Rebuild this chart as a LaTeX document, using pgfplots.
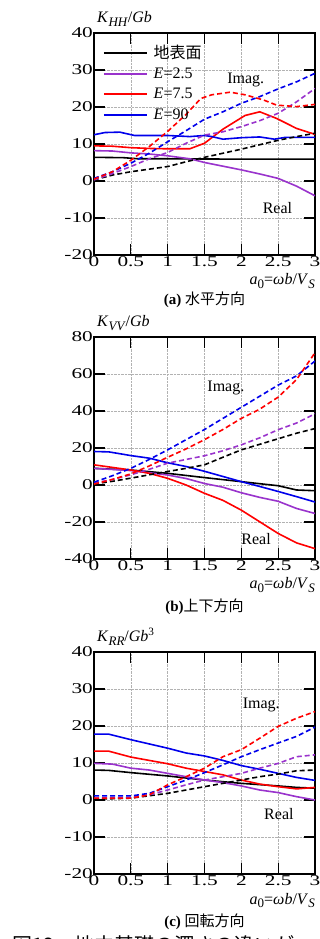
\documentclass[border=0pt]{standalone}
\usepackage{pgfplots}
\pgfplotsset{compat=1.18}
\usepackage{fontspec}
\setmainfont{Liberation Serif}
\newfontfamily\jp{Noto Sans CJK JP}
\newfontfamily\tickfont[FakeStretch=1.42]{Liberation Serif}
\definecolor{mpurple}{RGB}{153,51,204}
\definecolor{mblue}{RGB}{0,0,235}
\definecolor{mred}{RGB}{255,0,0}
\pgfplotsset{
 mystyle/.style={
  scale only axis, width=221pt, height=222pt,
  xmin=0, xmax=3, xtick={0,0.5,1,1.5,2,2.5,3}, xticklabels={0,0.5,1,1.5,2,2.5,3},
  grid=major, grid style={densely dotted, black!30, line width=0.6pt},
  axis line style={line width=1.3pt},
  major tick length=11pt, tick style={line width=1.3pt, black},
  /pgf/number format/assume math mode=true,
  every tick label/.append style={font=\tickfont\fontsize{15}{15}\selectfont},
  xticklabel style={inner sep=1pt},
  yticklabel style={inner sep=1pt},
  clip mode=individual,
 },
 sol/.style={line width=1.6pt},
 das/.style={line width=1.6pt, dash pattern=on 5pt off 3pt},
}
\newcommand{\lsub}[1]{\raisebox{-0.45ex}{\fontsize{13}{13}\selectfont #1}}
\newcommand{\xlab}{\textit{a}\lsub{0}=\textit{ωb}/\textit{V}\lsub{\textit{S}}}
\begin{document}
\begin{tikzpicture}
\useasboundingbox (0,0) rectangle (320pt,939pt);
% ---------------- (a)
\begin{axis}[mystyle, at={(94pt,684pt)}, anchor=south west,
  ymin=-20, ymax=40, ytick={-20,-10,0,10,20,30,40},
  legend style={draw=none, fill=none, at={(0.035,0.96)}, anchor=north west,
    font=\fontsize{16}{16}\selectfont, row sep=4.2pt, inner sep=1pt, cells={anchor=west}},
  legend image code/.code={\draw[line width=2pt] (0pt,0pt) -- (43pt,0pt); \path (47pt,0pt);},
]
\addplot[sol, black] coordinates {(0,6.4)(0.4,6.3)(0.6,6.0)(1,6.0)(2,5.9)(3,5.9)};
\addlegendentry{{\jp 地表面}}
\addplot[sol, mpurple] coordinates {(0,8.2)(0.25,8.1)(0.5,7.6)(0.75,7.3)(1,6.8)(1.3,6.0)(1.5,5.0)(1.75,4.0)(2,3.0)(2.25,1.9)(2.5,0.7)(2.75,-1.4)(3,-4.0)};
\addlegendentry{\textit{E}=2.5}
\addplot[sol, mred] coordinates {(0,9.5)(0.25,9.4)(0.5,9.0)(0.75,8.8)(1,8.7)(1.3,8.7)(1.5,10.2)(1.75,14.0)(2.05,17.7)(2.25,18.7)(2.48,16.9)(2.75,14.2)(3,12.6)};
\addlegendentry{\textit{E}=7.5}
\addplot[sol, mblue] coordinates {(0,12.5)(0.15,13.1)(0.35,13.2)(0.55,12.3)(1,12.3)(1.3,12.0)(1.5,12.3)(1.6,12.0)(1.75,11.3)(2,11.7)(2.25,11.9)(2.45,11.3)(2.6,11.8)(3,11.8)};
\addlegendentry{\textit{E}=90}
\addplot[das, black, forget plot] coordinates {(0,0.3)(0.25,1.6)(0.5,2.5)(0.75,3.2)(1,3.9)(1.25,5.2)(1.5,6.4)(1.75,7.5)(2,8.6)(2.25,9.8)(2.5,11.0)(2.75,12.0)(3,12.9)};
\addplot[das, mpurple, forget plot] coordinates {(0,0.3)(0.25,2.0)(0.5,3.9)(0.75,6.0)(1,7.7)(1.25,10.2)(1.5,12.4)(1.75,13.3)(2,14.7)(2.25,16.3)(2.5,18.3)(2.75,21.4)(3,25.0)};
\addplot[das, mblue, forget plot] coordinates {(0,0.7)(0.25,2.5)(0.5,4.8)(0.75,7.5)(1,10.6)(1.25,13.6)(1.5,16.7)(1.75,18.7)(2,21.0)(2.25,22.8)(2.5,24.9)(2.75,26.8)(3,29.1)};
\addplot[das, mred, forget plot] coordinates {(0,0.5)(0.25,2.5)(0.5,5.6)(0.75,9.3)(1,13.4)(1.25,18.0)(1.45,22.3)(1.6,23.3)(1.85,24.0)(2.05,23.3)(2.3,21.9)(2.48,20.5)(2.75,20.1)(3,20.7)};
\node[font=\fontsize{16}{16}\selectfont] at (axis cs:2.06,27.3) {Imag.};
\node[font=\fontsize{16}{16}\selectfont] at (axis cs:2.49,-7.2) {Real};
\node[anchor=base west, inner sep=0, font=\fontsize{16}{16}\selectfont] at (rel axis cs:0,1) [xshift=3pt, yshift=10pt] {\textit{K}\lsub{\textit{HH}}/\textit{Gb}};
\node[anchor=base east, inner sep=0, font=\fontsize{16}{16}\selectfont] at (rel axis cs:1,0) [yshift=-30pt] {\xlab};
\node[anchor=base, inner sep=0, font=\fontsize{15}{15}\selectfont] at (rel axis cs:0.5,0) [yshift=-50pt] {\textbf{(a)} {\jp 水平方向}};
\end{axis}
% ---------------- (b)
\begin{axis}[mystyle, at={(94pt,380pt)}, anchor=south west,
  ymin=-40, ymax=80, ytick={-40,-20,0,20,40,60,80}]
\addplot[sol, black] coordinates {(0,9.0)(0.5,8.1)(1,6.3)(1.5,4.0)(2,1.8)(2.5,-0.4)(2.75,-2.7)(3,-3.1)};
\addplot[sol, mpurple] coordinates {(0,9.0)(0.5,7.8)(1,5.4)(1.25,3.5)(1.5,0.8)(1.75,-1.2)(2,-4.2)(2.25,-6.7)(2.5,-8.8)(2.75,-12.7)(3,-15.4)};
\addplot[sol, mred] coordinates {(0,10.9)(0.25,9.5)(0.5,8.1)(0.75,6.3)(1,3.6)(1.25,0)(1.5,-4.5)(1.75,-8.3)(2,-13.6)(2.25,-19.9)(2.5,-26.2)(2.75,-31.3)(3,-34.4)};
\addplot[sol, mblue] coordinates {(0,18.1)(0.2,17.9)(0.5,15.9)(0.75,14.5)(1,12.0)(1.25,10.0)(1.5,7.4)(1.75,4.6)(2,1.8)(2.25,-0.8)(2.5,-3.5)(2.75,-6.3)(3,-9.2)};
\addplot[das, black] coordinates {(0,0.6)(0.25,2.0)(0.5,3.7)(0.75,5.5)(1,7.3)(1.25,9.0)(1.5,10.9)(1.75,15.0)(2,19.0)(2.25,22.0)(2.5,25.0)(2.75,28.0)(3,30.5)};
\addplot[das, mpurple] coordinates {(0,1.0)(0.25,3.0)(0.5,5.5)(0.75,8.5)(1,11.8)(1.25,13.8)(1.5,15.8)(1.75,18.5)(2,21.7)(2.25,25.5)(2.5,29.9)(2.75,33.5)(3,38.5)};
\addplot[das, mblue] coordinates {(0,1.5)(0.25,5.0)(0.5,9.0)(0.75,13.8)(1,19.0)(1.25,24.5)(1.5,30.0)(1.75,36.0)(2,42.0)(2.25,48.0)(2.5,54.0)(2.75,59.0)(3,67.0)};
\addplot[das, mred] coordinates {(0,0.5)(0.25,3.0)(0.5,6.0)(0.75,10.3)(1,15.0)(1.25,19.5)(1.5,24.5)(1.75,30.0)(2,36.0)(2.25,41.0)(2.5,47.5)(2.75,57.0)(3,71.5)};
\node[font=\fontsize{16}{16}\selectfont] at (axis cs:1.79,52.4) {Imag.};
\node[font=\fontsize{16}{16}\selectfont] at (axis cs:2.2,-29) {Real};
\node[anchor=base west, inner sep=0, font=\fontsize{16}{16}\selectfont] at (rel axis cs:0,1) [xshift=3pt, yshift=10pt] {\textit{K}\lsub{\textit{VV}}/\textit{Gb}};
\node[anchor=base east, inner sep=0, font=\fontsize{16}{16}\selectfont] at (rel axis cs:1,0) [yshift=-30pt] {\xlab};
\node[anchor=base, inner sep=0, font=\fontsize{15}{15}\selectfont] at (rel axis cs:0.5,0) [yshift=-53pt] {\textbf{(b)}{\jp 上下方向}};
\end{axis}
% ---------------- (c)
\begin{axis}[mystyle, at={(94pt,65pt)}, anchor=south west,
  ymin=-20, ymax=40, ytick={-20,-10,0,10,20,30,40}]
\addplot[sol, black] coordinates {(0,8.1)(0.2,8.0)(0.5,7.4)(1,6.5)(1.5,5.4)(2,4.5)(2.5,3.8)(2.75,3.4)(3,3.2)};
\addplot[sol, mpurple] coordinates {(0,9.9)(0.25,9.7)(0.5,8.6)(0.75,8.1)(1,7.2)(1.25,6.3)(1.5,5.4)(1.75,4.7)(2,3.8)(2.25,2.7)(2.5,2.0)(2.75,0.9)(3,0)};
\addplot[sol, mred] coordinates {(0,13.2)(0.2,13.2)(0.5,11.6)(1,9.8)(1.25,8.6)(1.5,7.7)(1.75,6.8)(2,5.4)(2.25,4.3)(2.5,3.6)(2.75,3.0)(3,3.4)};
\addplot[sol, mblue] coordinates {(0,17.8)(0.2,17.8)(0.5,16.3)(1,14.0)(1.25,12.7)(1.5,11.9)(1.75,10.7)(2,9.3)(2.25,8.3)(2.5,7.2)(2.75,6.1)(3,5.3)};
\addplot[das, black] coordinates {(0,0.2)(0.5,0.5)(1,1.8)(1.25,2.7)(1.5,3.6)(1.75,4.5)(2,5.4)(2.25,6.3)(2.5,7.0)(2.75,7.9)(3,8.1)};
\addplot[das, mpurple] coordinates {(0,0.5)(0.5,0.7)(0.75,1.4)(1,2.7)(1.25,4.1)(1.5,5.4)(1.75,6.3)(2,7.2)(2.25,8.6)(2.5,9.9)(2.75,11.7)(3,12.2)};
\addplot[das, mblue] coordinates {(0,1.1)(0.5,1.1)(0.75,1.8)(1,3.6)(1.25,5.4)(1.5,7.4)(1.75,9.5)(2,11.7)(2.25,13.6)(2.5,15.4)(2.75,17.2)(3,19.7)};
\addplot[das, mred] coordinates {(0,0.5)(0.5,0.5)(0.75,1.4)(1,4.1)(1.25,6.3)(1.5,8.6)(1.75,11.7)(2,13.6)(2.25,16.7)(2.5,19.9)(2.75,22.1)(3,23.9)};
\node[font=\fontsize{16}{16}\selectfont] at (axis cs:2.27,25.7) {Imag.};
\node[font=\fontsize{16}{16}\selectfont] at (axis cs:2.51,-3.9) {Real};
\node[anchor=base west, inner sep=0, font=\fontsize{16}{16}\selectfont] at (rel axis cs:0,1) [xshift=3pt, yshift=10pt] {\textit{K}\lsub{\textit{RR}}/\textit{Gb}\textsuperscript{3}};
\node[anchor=base east, inner sep=0, font=\fontsize{16}{16}\selectfont] at (rel axis cs:1,0) [yshift=-30pt] {\xlab};
\node[anchor=base, inner sep=0, font=\fontsize{15}{15}\selectfont] at (rel axis cs:0.5,0) [yshift=-52pt] {\textbf{(c)} {\jp 回転方向}};
\end{axis}
\node[anchor=base west, inner sep=0, font=\fontsize{20}{20}\selectfont] at (12pt,-13.5pt) {\jp 図12　地中基礎の深さの違いが};
\end{tikzpicture}
\end{document}
